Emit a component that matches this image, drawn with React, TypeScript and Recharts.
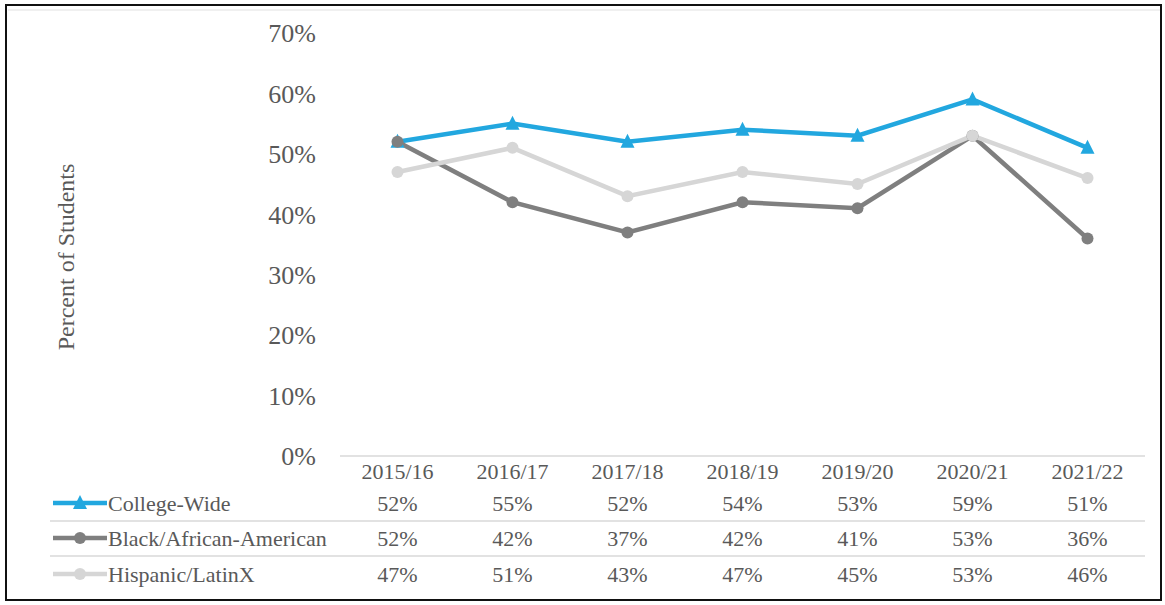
import React from 'react';
import { LineChart, Line, XAxis, YAxis, Customized } from 'recharts';

const categories = ['2015/16', '2016/17', '2017/18', '2018/19', '2019/20', '2020/21', '2021/22'];
const collegeWide = [52, 55, 52, 54, 53, 59, 51];
const blackAfricanAmerican = [52, 42, 37, 42, 41, 53, 36];
const hispanicLatinX = [47, 51, 43, 47, 45, 53, 46];
const yTicks = [0, 10, 20, 30, 40, 50, 60, 70];

const seriesNames = ['College-Wide', 'Black/African-American', 'Hispanic/LatinX'];
const seriesValues = [collegeWide, blackAfricanAmerican, hispanicLatinX];
const seriesColors = ['#22A7DF', '#7F7F7F', '#D6D6D6'];

const data = categories.map((c, i) => ({
  cat: c,
  college: collegeWide[i],
  black: blackAfricanAmerican[i],
  hispanic: hispanicLatinX[i],
}));

const FONT = "'Liberation Serif', 'Times New Roman', Times, serif";
const TEXT = '#595959';
const fontStyle = { fontFamily: FONT };

const rowOffsets = [9, 41, 76, 112];

const XTick = (props: any) => {
  const { x, y, index } = props;
  return (
    <g>
      <text x={x} y={y + rowOffsets[0]} textAnchor="middle" dominantBaseline="central" fontSize={22} fill={TEXT} style={fontStyle}>
        {categories[index]}
      </text>
      {seriesValues.map((vals, s) => (
        <text key={s} x={x} y={y + rowOffsets[s + 1]} textAnchor="middle" dominantBaseline="central" fontSize={22} fill={TEXT} style={fontStyle}>
          {vals[index]}%
        </text>
      ))}
    </g>
  );
};

const Triangle = (props: any) => {
  const { cx, cy } = props;
  if (cx == null || cy == null) return <g key={props.key} />;
  const s = 7;
  return (
    <path
      key={props.key}
      d={`M${cx},${cy - s - 1} L${cx + s},${cy + s - 1} L${cx - s},${cy + s - 1} Z`}
      fill={seriesColors[0]}
    />
  );
};

const Overlay = () => {
  const rowsY = [503, 538, 574];
  return (
    <g>
      <rect x={6} y={5} width={1155} height={595} fill="none" stroke="#111" strokeWidth={2} />
      <line x1={8} y1={10} x2={1160} y2={10} stroke="#f0f0f0" strokeWidth={2} />
      <text
        x={0}
        y={0}
        transform="translate(66,257) rotate(-90)"
        textAnchor="middle"
        dominantBaseline="central"
        fontSize={24}
        fill={TEXT}
        style={fontStyle}
      >
        Percent of Students
      </text>
      <line x1={50} y1={521} x2={1145} y2={521} stroke="#d9d9d9" strokeWidth={1.5} />
      <line x1={50} y1={556} x2={1145} y2={556} stroke="#d9d9d9" strokeWidth={1.5} />
      {seriesNames.map((name, i) => (
        <g key={name}>
          <line x1={53} y1={rowsY[i]} x2={107} y2={rowsY[i]} stroke={seriesColors[i]} strokeWidth={4.5} />
          {i === 0 ? (
            <path d={`M80,${rowsY[i] - 8} L87,${rowsY[i] + 6} L73,${rowsY[i] + 6} Z`} fill={seriesColors[i]} />
          ) : (
            <circle cx={80} cy={rowsY[i]} r={6} fill={seriesColors[i]} />
          )}
          <text x={108} y={rowsY[i]} dominantBaseline="central" fontSize={22} fill={TEXT} style={fontStyle}>
            {name}
          </text>
        </g>
      ))}
    </g>
  );
};

export default function App() {
  return (
    <div style={{ position: 'absolute', left: 0, top: 0, width: 1165, height: 605, background: '#fff', fontFamily: FONT }}>
      <LineChart width={1165} height={605} data={data} margin={{ top: 33, right: 20, bottom: 9, left: 0 }} style={fontStyle}>
        <Customized component={Overlay} />
        <XAxis
          dataKey="cat"
          height={140}
          interval={0}
          padding={{ left: 57.5, right: 57.5 }}
          tickLine={false}
          tickSize={6}
          tickMargin={0}
          axisLine={{ stroke: '#d9d9d9', strokeWidth: 1.5 }}
          tick={<XTick />}
        />
        <YAxis
          width={340}
          domain={[0, 70]}
          ticks={yTicks}
          interval={0}
          axisLine={false}
          tickLine={false}
          tickSize={6}
          tickMargin={18}
          tickFormatter={(v: number) => `${v}%`}
          tick={{ fontSize: 26, fill: TEXT, style: fontStyle }}
        />
        <Line
          dataKey="college"
          stroke={seriesColors[0]}
          strokeWidth={4.5}
          dot={Triangle}
          activeDot={false}
          isAnimationActive={false}
        />
        <Line
          dataKey="black"
          stroke={seriesColors[1]}
          strokeWidth={4.5}
          dot={{ r: 6, fill: seriesColors[1], stroke: 'none' }}
          activeDot={false}
          isAnimationActive={false}
        />
        <Line
          dataKey="hispanic"
          stroke={seriesColors[2]}
          strokeWidth={4.5}
          dot={{ r: 6, fill: seriesColors[2], stroke: 'none' }}
          activeDot={false}
          isAnimationActive={false}
        />
      </LineChart>
    </div>
  );
}
